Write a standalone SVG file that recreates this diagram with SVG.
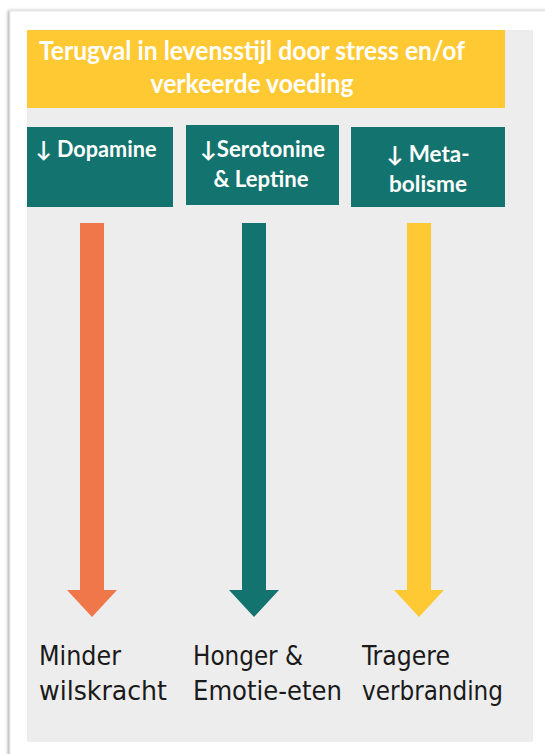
<svg xmlns="http://www.w3.org/2000/svg" width="545" height="754" viewBox="0 0 545 754">
  <defs>
    <filter id="shadow" x="-5%" y="-5%" width="110%" height="110%">
      <feDropShadow dx="-1.5" dy="0" stdDeviation="1.5" flood-color="#000" flood-opacity="0.35"/>
    </filter>
    <style>
      .head { font-family: Lato, "Open Sans", "DejaVu Sans", sans-serif; font-weight: bold; fill: #ffffff; font-size: 26px; }
      .box { font-family: Lato, "Open Sans", "DejaVu Sans", sans-serif; font-weight: bold; fill: #ffffff; font-size: 22px; }
      .out { font-family: "DejaVu Sans Condensed", "DejaVu Sans", sans-serif; font-stretch: condensed; fill: #1a1a1a; font-size: 27px; }
      .teal { fill: #13736e; }
    </style>
  </defs>
  <rect x="0" y="0" width="545" height="754" fill="#ffffff"/>
  <rect x="10" y="11" width="560" height="770" fill="#ffffff" stroke="#e6e6e6" stroke-width="1" filter="url(#shadow)"/>
  <rect x="27" y="30" width="506" height="712" fill="#ededed"/>

  <g id="title">
    <rect x="27" y="30" width="478" height="78" fill="#ffc933"/>
    <text class="head" x="252" y="60" text-anchor="middle" textLength="426" lengthAdjust="spacingAndGlyphs">Terugval in levensstijl door stress en/of</text>
    <text class="head" x="252" y="93" text-anchor="middle" textLength="203" lengthAdjust="spacingAndGlyphs">verkeerde voeding</text>
  </g>

  <g id="dopamine">
    <rect class="teal" x="27" y="127" width="146" height="80"/>
    <text class="box" x="96" y="157" text-anchor="middle" textLength="121" lengthAdjust="spacingAndGlyphs">↓ Dopamine</text>
  </g>

  <g id="serotonine">
    <rect class="teal" x="186" y="125" width="153" height="80"/>
    <text class="box" x="262.5" y="157" text-anchor="middle" textLength="125" lengthAdjust="spacingAndGlyphs">↓Serotonine</text>
    <text class="box" x="261" y="187" text-anchor="middle" textLength="95" lengthAdjust="spacingAndGlyphs">&amp; Leptine</text>
  </g>

  <g id="metabolisme">
    <rect class="teal" x="351" y="127" width="154" height="80"/>
    <text class="box" x="428" y="162" text-anchor="middle" textLength="83" lengthAdjust="spacingAndGlyphs">↓ Meta-</text>
    <text class="box" x="428" y="192" text-anchor="middle" textLength="78" lengthAdjust="spacingAndGlyphs">bolisme</text>
  </g>

  <g id="connectors">
    <path d="M80,223 H104 V590 H117 L92,617 L67,590 H80 Z" fill="#f0774a"/>
    <path d="M242,223 H266 V590 H279 L254,617 L229,590 H242 Z" fill="#13736e"/>
    <path d="M407,223 H431 V590 H444 L419,617 L394,590 H407 Z" fill="#ffc933"/>
  </g>

  <g id="wilskracht">
    <text class="out" x="39" y="665" textLength="82" lengthAdjust="spacingAndGlyphs">Minder</text>
    <text class="out" x="39" y="700" textLength="128" lengthAdjust="spacingAndGlyphs">wilskracht</text>
  </g>

  <g id="emotie-eten">
    <text class="out" x="193" y="665" textLength="110" lengthAdjust="spacingAndGlyphs">Honger &amp;</text>
    <text class="out" x="193" y="700" textLength="149" lengthAdjust="spacingAndGlyphs">Emotie-eten</text>
  </g>

  <g id="verbranding">
    <text class="out" x="362" y="665" textLength="88" lengthAdjust="spacingAndGlyphs">Tragere</text>
    <text class="out" x="362" y="700" textLength="141" lengthAdjust="spacingAndGlyphs">verbranding</text>
  </g>
</svg>
